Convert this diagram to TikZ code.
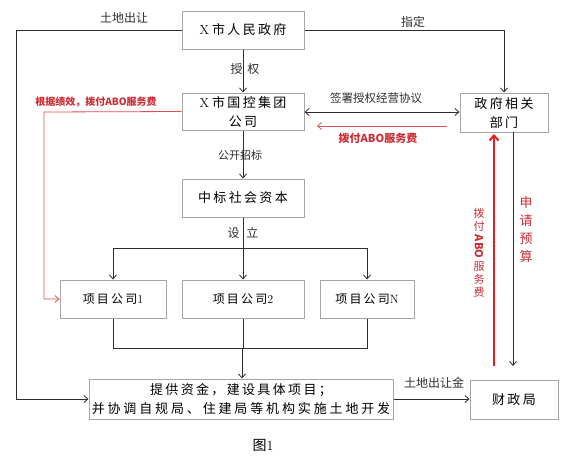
\documentclass[tikz,border=0pt]{standalone}
\usepackage{fontspec}
\usepackage{graphicx}
\newfontfamily\cjk{Noto Sans CJK SC}
\newfontfamily\cjkls[LetterSpace=18]{Noto Sans CJK SC}
\newfontfamily\cjkwide[LetterSpace=22]{Noto Sans CJK SC}
\usetikzlibrary{arrows.meta}
\definecolor{boxgray}{RGB}{165,165,165}
\definecolor{ln}{RGB}{45,45,45}
\definecolor{redtxt}{RGB}{205,45,50}
\definecolor{redln}{RGB}{225,80,85}
\definecolor{redthick}{RGB}{228,30,35}
\tikzset{
  box/.style={draw=boxgray,line width=1pt,fill=white,inner sep=0pt,align=center,font=\fontsize{13}{19}\selectfont},
  conn/.style={draw=ln,line width=0.8pt},
  arr/.style={conn,-{Straight Barb[length=4pt,width=7pt]}},
  darr/.style={conn,{Straight Barb[length=4pt,width=7pt]}-{Straight Barb[length=4pt,width=7pt]}},
  redarr/.style={draw=redln,line width=0.8pt,-{Straight Barb[length=4pt,width=7pt]}},
  redbig/.style={draw=redthick,line width=2pt,-{Straight Barb[length=5pt,width=9pt]}},
  lbl/.style={inner sep=1pt,font=\cjk\fontsize{12}{14}\selectfont,text=ln},
  redlbl/.style={inner sep=1pt,text=redtxt,font=\cjk\bfseries\fontsize{11}{13}\selectfont}
}
\begin{document}
\begin{tikzpicture}[x=1pt,y=-1pt]
\useasboundingbox (0,0) rectangle (581,463);
% boxes
\node[box,minimum width=122pt,minimum height=38pt] (gov) at (243,30) {X\hspace{3pt}\cjkls 市人民政府};
\node[box,minimum width=122pt,minimum height=37pt] (gk) at (243,111.5) {X\hspace{3pt}\cjkls 市国控集团\\\cjkls 公司};
\node[box,minimum width=122pt,minimum height=38pt] (zb) at (243,198) {\cjkls 中标社会资本};
\node[box,minimum width=106pt,minimum height=38pt,font=\fontsize{12}{14}\selectfont] (p1) at (113,299) {{\cjkls 项目公司}1};
\node[box,minimum width=122pt,minimum height=38pt,font=\fontsize{12}{14}\selectfont] (p2) at (243,299) {{\cjkls 项目公司}2};
\node[box,minimum width=94pt,minimum height=38pt,font=\fontsize{12}{14}\selectfont] (pN) at (367,299) {{\cjkls 项目公司}N};
\node[box,minimum width=88pt,minimum height=39pt] (dep) at (504,112.5) {\cjkls 政府相关\\\cjkls 部门};
\node[box,minimum width=304pt,minimum height=40pt,font=\fontsize{13}{19}\selectfont] (work) at (241,399) {\cjkls 提供资金，建设具体项目；\\\cjkwide 并协调自规局、住建局等机构实施土地开发};
\node[box,minimum width=88pt,minimum height=39pt] (fin) at (514,399.5) {\cjkls 财政局};
% coordinates
\coordinate (L) at (16,30);
\coordinate (S) at (243,248);
\coordinate (M) at (242,348);
\coordinate (RL) at (44,112);
\coordinate (r1) at (447,126);
\coordinate (r2) at (317,126);
\coordinate (rb) at (494,366);
\coordinate (rt) at (494,134);
\coordinate (bt) at (513,132);
\coordinate (bb) at (513,366);
% connectors
\draw[arr] (gov.west) -- (L) |- (work.west);
\draw[arr] (gov.east) -| (dep.north);
\draw[arr] (gov.south) -- (gk.north);
\draw[arr] (gk.south) -- (zb.north);
\draw[arr] (zb.south) -- (p2.north);
\draw[arr] (S) -| (p1.north);
\draw[arr] (S) -| (pN.north);
\draw[conn] (p1.south) |- (M);
\draw[conn] (pN.south) |- (M);
\draw[conn] (p2.south) -- (p2.south |- M);
\draw[arr] (M) -- (M |- work.north);
\draw[darr] (gk.east |- 0,112) -- (dep.west |- 0,112);
\draw[redarr] (r1) -- (r2);
\draw[redarr] (gk.west) -- (RL) |- (p1.west);
\draw[redbig] (rb) -- (rt);
\draw[arr] (bt) -- (bb);
\draw[arr] (work.east) -- (fin.west |- work.east);
% labels
\node[lbl] (l1) at (124,18) {土地出让};
\node[lbl] (l2) at (413,22) {指定};
\node[lbl] (l3) at (245,69) {授\hspace{5pt}权};
\node[lbl,font=\cjk\fontsize{11}{13}\selectfont] (l4) at (240,155) {公开招标};
\node[lbl] (l5) at (243,233) {设\hspace{7pt}立};
\node[lbl,font=\cjk\fontsize{11.5}{13}\selectfont] (l6) at (376,98) {签署授权经营协议};
\node[redlbl] (l7) at (378,138) {拨付ABO服务费};
\node[redlbl,font=\cjk\bfseries\fontsize{10}{12}\selectfont] (l8) at (96,102) {根据绩效，拨付ABO服务费};
\node[redlbl,font=\cjk\fontsize{11}{12.5}\selectfont] (l9) at (479,253) {\shortstack{拨\\付\\\rotatebox[origin=c]{-90}{\bfseries ABO}\\服\\务\\费}};
\node[redlbl,align=center,font=\cjk\fontsize{13}{18}\selectfont] (l10) at (526,230) {申\\请\\预\\算};
\node[lbl] (l11) at (434,383) {土地出让金};
\node[inner sep=0pt,font=\fontsize{14}{16}\selectfont] (fig) at (263,445) {{\cjk 图}1};
\end{tikzpicture}
\end{document}
